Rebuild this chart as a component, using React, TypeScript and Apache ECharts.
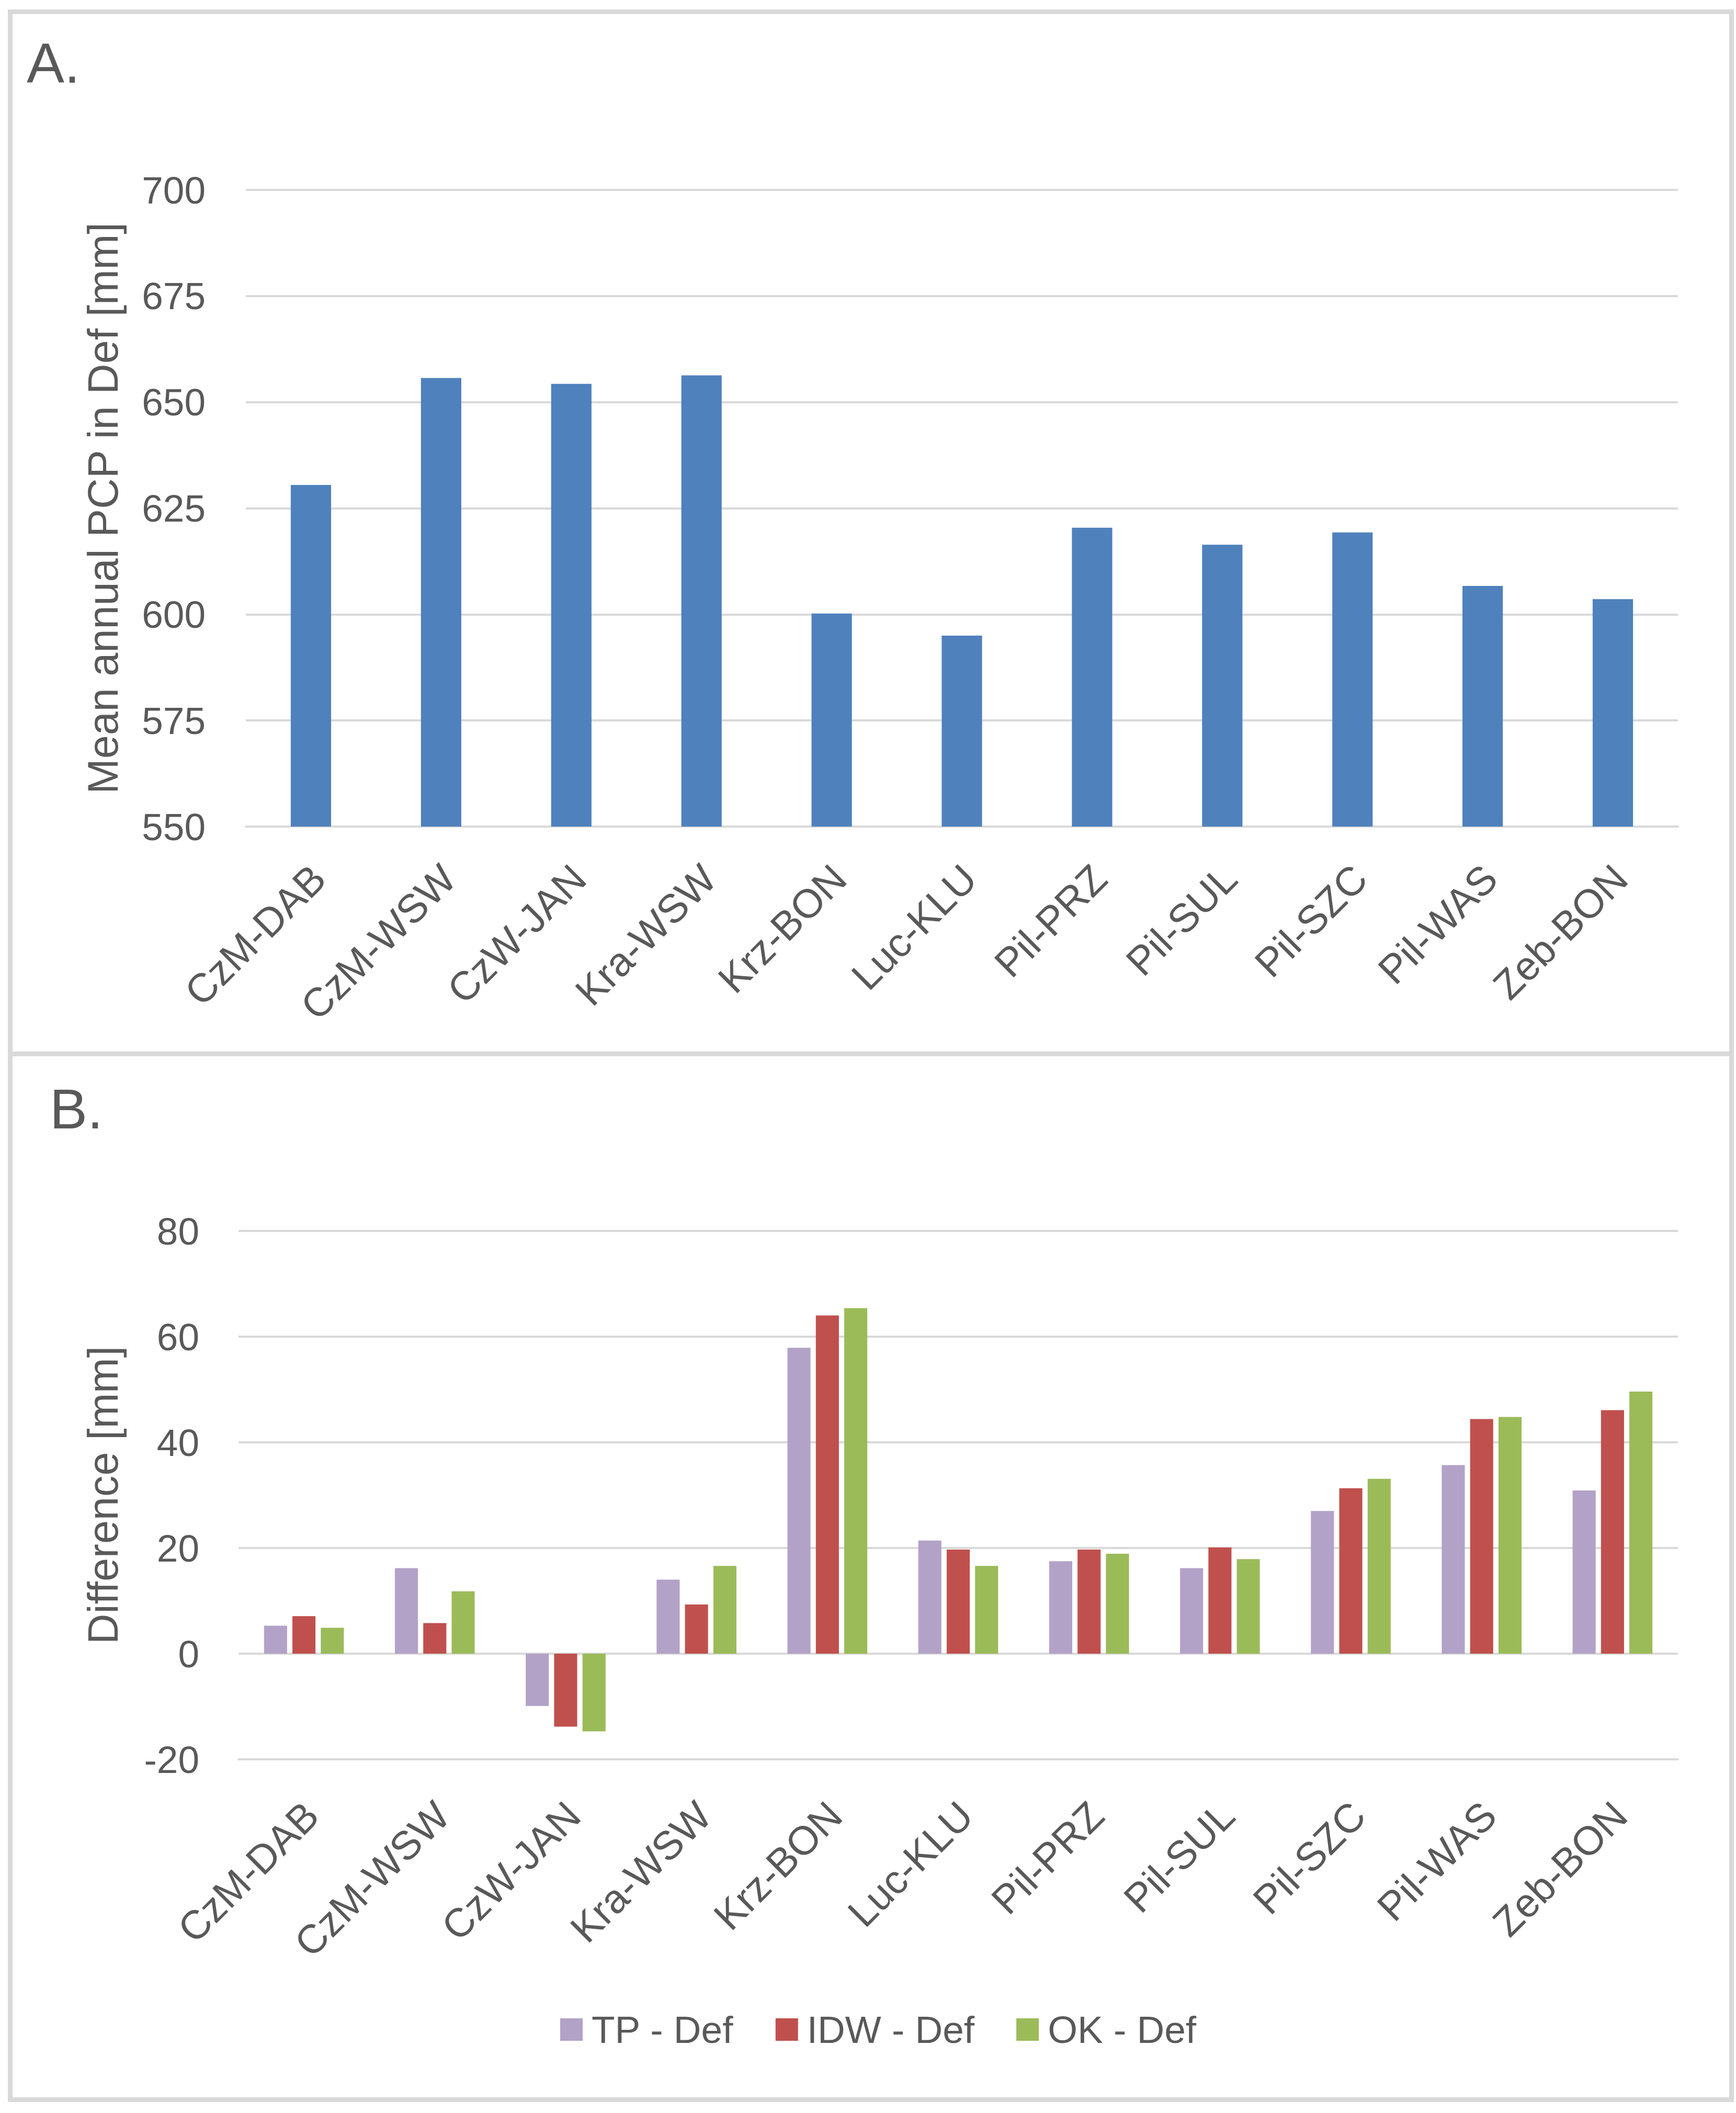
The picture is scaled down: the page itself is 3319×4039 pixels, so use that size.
import React, { useEffect, useRef } from "react";
import * as echarts from "echarts";

const categories = ["CzM-DAB", "CzM-WSW", "CzW-JAN", "Kra-WSW", "Krz-BON", "Luc-KLU", "Pil-PRZ", "Pil-SUL", "Pil-SZC", "Pil-WAS", "Zeb-BON"];
const meanPcp = [630.5, 655.7, 654.3, 656.3, 600.2, 595.0, 620.4, 616.4, 619.3, 606.7, 603.6];
const tpDiff = [5.3, 16.2, -9.9, 14.0, 57.9, 21.4, 17.5, 16.2, 27.0, 35.7, 30.9];
const idwDiff = [7.1, 5.8, -13.8, 9.3, 64.0, 19.7, 19.7, 20.1, 31.3, 44.4, 46.1];
const okDiff = [4.9, 11.8, -14.7, 16.6, 65.4, 16.6, 18.9, 17.9, 33.1, 44.8, 49.6];
const seriesNames = ["TP - Def", "IDW - Def", "OK - Def"];

const W = 3319;
const H = 4039;
const FONT = "Liberation Sans";
const TXT = "#595959";
const GRID_C = "#d9d9d9";

export default function App() {
  const ref = useRef<HTMLDivElement>(null);
  useEffect(() => {
    document.body.style.margin = "0";
    const chart = echarts.init(ref.current!, null, { renderer: "svg", width: W, height: H });
    const catAxis = (gridIndex: number, margin: number) => ({
      type: "category",
      gridIndex,
      data: categories,
      axisTick: { show: false },
      axisLine: { show: true, onZero: false, lineStyle: { color: GRID_C, width: 4 } },
      axisLabel: {
        interval: 0,
        rotate: 45,
        margin,
        align: "right",
        verticalAlign: "top",
        lineHeight: 40,
        color: TXT,
        fontFamily: FONT,
        fontSize: 77,
      },
    });
    const valAxis = (gridIndex: number, min: number, max: number, interval: number, name: string, nameGap: number, labelMargin: number) => ({
      type: "value",
      gridIndex,
      min,
      max,
      interval,
      name,
      nameLocation: "middle",
      nameRotate: 90,
      nameGap,
      nameTextStyle: { color: TXT, fontFamily: FONT, fontSize: 81 },
      axisLine: { show: false },
      axisTick: { show: false },
      axisLabel: { color: TXT, fontFamily: FONT, fontSize: 73, margin: labelMargin },
      splitLine: { show: true, lineStyle: { color: GRID_C, width: 4 } },
    });
    chart.setOption({
      animation: false,
      backgroundColor: "#ffffff",
      grid: [
        { left: 470, right: W - 3208, top: 363, bottom: H - 1580, containLabel: false },
        { left: 456, right: W - 3208, top: 2353, bottom: H - 3363, containLabel: false },
      ],
      xAxis: [catAxis(0, 72), catAxis(1, 80)],
      yAxis: [
        valAxis(0, 550, 700, 25, "Mean annual PCP in Def [mm]", 233, 77),
        valAxis(1, -20, 80, 20, "Difference [mm]", 219, 75),
      ],
      legend: {
        data: seriesNames,
        left: 1066,
        top: 3838,
        icon: "rect",
        itemWidth: 43,
        itemHeight: 43,
        itemGap: 80,
        textStyle: { color: TXT, fontFamily: FONT, fontSize: 73, padding: [0, 0, 0, 12] },
      },
      series: [
        {
          type: "bar",
          name: "Mean annual PCP",
          xAxisIndex: 0,
          yAxisIndex: 0,
          data: meanPcp,
          barCategoryGap: "69%",
          itemStyle: { color: "#4F81BD" },
        },
        {
          type: "bar",
          name: seriesNames[0],
          xAxisIndex: 1,
          yAxisIndex: 1,
          data: tpDiff,
          barGap: "23%",
          barCategoryGap: "39%",
          itemStyle: { color: "#B3A2C7" },
        },
        {
          type: "bar",
          name: seriesNames[1],
          xAxisIndex: 1,
          yAxisIndex: 1,
          data: idwDiff,
          barGap: "23%",
          barCategoryGap: "39%",
          itemStyle: { color: "#C0504D" },
        },
        {
          type: "bar",
          name: seriesNames[2],
          xAxisIndex: 1,
          yAxisIndex: 1,
          data: okDiff,
          barGap: "23%",
          barCategoryGap: "39%",
          itemStyle: { color: "#9BBB59" },
        },
      ],
      graphic: [
        {
          type: "rect",
          shape: { x: 19.5, y: 22.5, width: 3291, height: 1992 },
          style: { fill: "none", stroke: GRID_C, lineWidth: 9 },
          silent: true,
        },
        {
          type: "rect",
          shape: { x: 19.5, y: 2014.5, width: 3291, height: 1999 },
          style: { fill: "none", stroke: GRID_C, lineWidth: 9 },
          silent: true,
        },
        {
          type: "text",
          x: 51,
          y: 120,
          style: { text: "A.", fill: TXT, fontFamily: FONT, fontSize: 108, verticalAlign: "middle", align: "left" },
        },
        {
          type: "text",
          x: 95,
          y: 2119,
          style: { text: "B.", fill: TXT, fontFamily: FONT, fontSize: 108, verticalAlign: "middle", align: "left" },
        },
      ],
    });
    return () => chart.dispose();
  }, []);
  return <div ref={ref} style={{ width: W, height: H }} />;
}
